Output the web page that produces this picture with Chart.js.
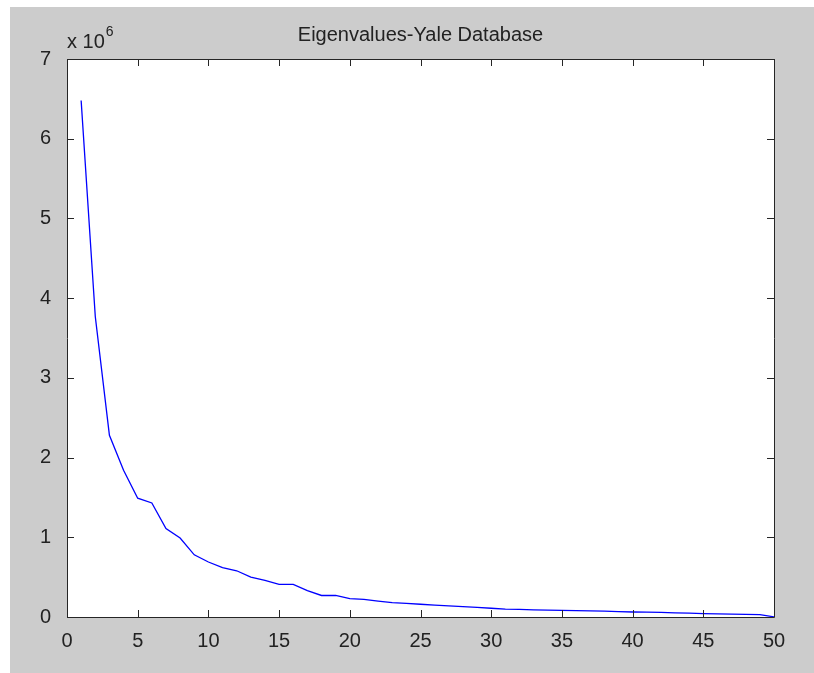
<!DOCTYPE html>
<html>
<head>
<meta charset="utf-8">
<script src="https://cdn.jsdelivr.net/npm/chart.js@4/dist/chart.umd.min.js"></script>
<style>
  html, body { margin: 0; padding: 0; background: #fff; }
  #wrap { width: 814px; height: 673px; }
</style>
</head>
<body>
<div id="wrap"><canvas id="chart" width="814" height="673"></canvas></div>
<script>
// eigenvalue index and value (units of 1)
var index_eig = [];
for (var n = 1; n <= 50; n++) index_eig.push(n);
var eig_val = [
    6480000, 3770000, 2280000, 1840000, 1490000, 1430000, 1110000, 990000, 780000, 690000,
    620000, 580000, 500000, 460000, 410000, 410000, 330000, 270000, 270000, 230000,
    220000, 200000, 180000, 170000, 160000, 150000, 140000, 130000, 120000, 110000,
    100000, 95000, 90000, 87000, 83000, 80000, 77000, 73000, 68000, 63000,
    60000, 57000, 53000, 48000, 43000, 40000, 37000, 34000, 30000, 2000
];
var x_ticks = [0, 5, 10, 15, 20, 25, 30, 35, 40, 45, 50];
var y_ticks = [0, 1, 2, 3, 4, 5, 6, 7];   // x 10^6
var chart_title = 'Eigenvalues-Yale Database';

var font_name = '"Liberation Sans", Arial, sans-serif';
var axis_color = '#262626';

var points = index_eig.map(function(x, i){ return { x: x, y: eig_val[i] }; });

// gray figure background
var bgPlugin = {
    id: 'figBg',
    beforeDraw: function(chart){
        var c = chart.ctx;
        c.save();
        c.fillStyle = '#fff';
        c.fillRect(0, 0, chart.width, chart.height);
        c.fillStyle = '#cccccc';
        c.fillRect(10, 7, chart.width - 10, chart.height - 7);
        var a = chart.chartArea;
        c.fillStyle = '#fff';
        c.fillRect(a.left, a.top, a.right - a.left, a.bottom - a.top);
        c.restore();
    }
};

// matlab style box with inward ticks, title and exponent label
var boxPlugin = {
    id: 'mbox',
    afterDraw: function(chart){
        var c = chart.ctx;
        var a = chart.chartArea;
        var xs = chart.scales.x, ys = chart.scales.y;
        var tl = 7;
        c.save();
        c.strokeStyle = axis_color;
        c.lineWidth = 1;
        c.beginPath();
        c.rect(Math.round(a.left) + 0.5, Math.round(a.top) + 0.5, Math.round(a.right - a.left), Math.round(a.bottom - a.top));
        x_ticks.forEach(function(t){
            var px = Math.round(xs.getPixelForValue(t)) + 0.5;
            c.moveTo(px, a.bottom); c.lineTo(px, a.bottom - tl);
            c.moveTo(px, a.top); c.lineTo(px, a.top + tl);
        });
        y_ticks.forEach(function(t){
            var py = Math.round(ys.getPixelForValue(t * 1e6)) + 0.5;
            c.moveTo(a.left, py); c.lineTo(a.left + tl, py);
            c.moveTo(a.right, py); c.lineTo(a.right - tl, py);
        });
        c.stroke();

        c.fillStyle = '#222';
        c.textAlign = 'center';
        c.textBaseline = 'alphabetic';
        c.font = '20px ' + font_name;
        c.fillText(chart_title, (a.left + a.right) / 2, 41);

        c.textAlign = 'left';
        c.fillText('x 10', a.left, 48);
        var w = c.measureText('x 10').width;
        c.font = '14px ' + font_name;
        c.fillText('6', a.left + w + 1, 36);
        c.restore();
    }
};

var ctx = document.getElementById('chart').getContext('2d');
var myChart = new Chart(ctx, {
    type: 'line',
    data: {
        datasets: [{
            label: 'eig',
            data: points,
            borderColor: '#0000ff',
            borderWidth: 1.3,
            pointRadius: 0,
            tension: 0,
            fill: false
        }]
    },
    options: {
        responsive: false,
        animation: false,
        layout: { padding: { left: 0, right: 40, top: 59, bottom: 0 } },
        plugins: {
            legend: { display: false },
            title: { display: false },
            tooltip: { enabled: false }
        },
        scales: {
            x: {
                type: 'linear',
                min: 0,
                max: 50,
                grid: { display: false },
                border: { display: false },
                afterBuildTicks: function(scale){
                    scale.ticks = x_ticks.map(function(v){ return { value: v }; });
                },
                ticks: {
                    color: '#222',
                    font: { family: font_name, size: 20 },
                    padding: 4,
                    maxRotation: 0,
                    autoSkip: false
                },
                afterFit: function(scale){ scale.height = 56; }
            },
            y: {
                type: 'linear',
                min: 0,
                max: 7000000,
                grid: { display: false },
                border: { display: false },
                afterBuildTicks: function(scale){
                    scale.ticks = y_ticks.map(function(v){ return { value: v * 1e6 }; });
                },
                ticks: {
                    color: '#222',
                    font: { family: font_name, size: 20 },
                    padding: 8,
                    callback: function(v){ return v / 1e6; }
                },
                afterFit: function(scale){ scale.width = 67; }
            }
        }
    },
    plugins: [bgPlugin, boxPlugin]
});
</script>
</body>
</html>
